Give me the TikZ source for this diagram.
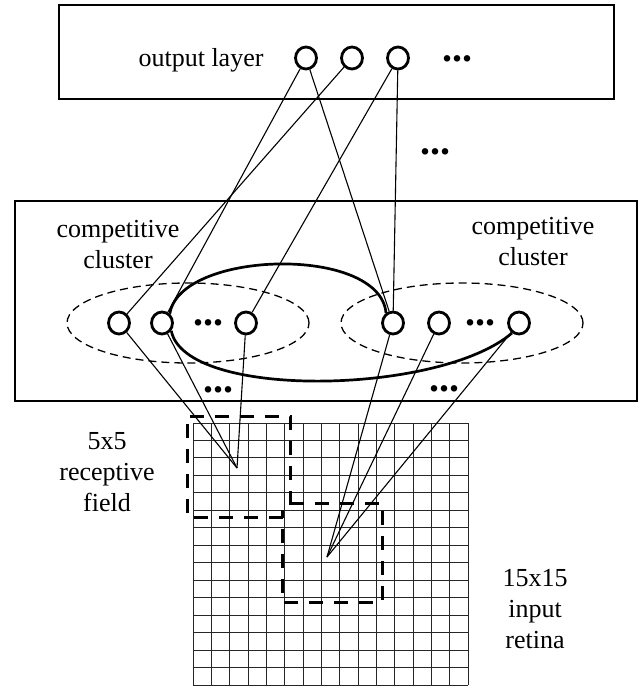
\documentclass[tikz,border=0pt]{standalone}
\usepackage{fontspec}
\setmainfont{Liberation Serif}
\usetikzlibrary{shapes.geometric,calc}
\begin{document}
\begin{tikzpicture}[x=1pt,y=-1pt,
  neuron/.style={draw,ellipse,fill=white,line width=2.8pt,minimum width=21pt,minimum height=22pt,inner sep=0pt},
  conn/.style={line width=1.1pt},
  box/.style={draw,line width=2pt},
  lbl/.style={font=\fontsize{26}{31}\selectfont,align=center,inner sep=0pt},
  dots/.style={font=\fontsize{40}{40}\selectfont\bfseries,inner sep=0pt},
  cluster/.style={draw,dash pattern=on 8pt off 5pt,line width=1.3pt},
  field/.style={line width=3pt,dash pattern=on 14pt off 11pt},
  gridline/.style={line width=1pt,black!85},
  loop/.style={line width=2.7pt}]
\useasboundingbox[fill=white] (0,0) rectangle (643,688);

% boxes
\draw[box] (59,5) rectangle (614,99);
\draw[box] (15,201) rectangle (637,401);

% competitive cluster ellipses
\draw[cluster] (188,323) ellipse [x radius=121pt, y radius=40pt];
\draw[cluster] (462,323) ellipse [x radius=121pt, y radius=40pt];

% input retina grid
\foreach \i in {0,...,15} {
  \draw[gridline] ({193+\i*275/15},423) -- ({193+\i*275/15},685);
  \draw[gridline] (193,{423+\i*262/15}) -- (468,{423+\i*262/15});
}

% receptive fields
\draw[field] (290,505) -- (290,416) -- (187,416) -- (187,517) -- (287,517);
\draw[field] (290,503) -- (382,503) -- (382,602) -- (282,602) -- (282,510);

% neurons
\node[neuron] (o1) at (306,58) {};
\node[neuron] (o2) at (352,58) {};
\node[neuron] (o3) at (398,58) {};
\node[neuron] (c1) at (119,323) {};
\node[neuron] (c2) at (162,323) {};
\node[neuron] (c3) at (246,323) {};
\node[neuron] (r1) at (393,323) {};
\node[neuron] (r2) at (439,323) {};
\node[neuron] (r3) at (519,323) {};
\coordinate (p1) at (237,468);
\coordinate (p2) at (327,557);

% lateral connection loop
\draw[loop] (c2.50) .. controls (180,250) and (380,245) .. (r1.125);
\draw[loop] (c2.-40) .. controls (185,400) and (440,395) .. (r3.-125);

% connections
\draw[conn] (o1) -- (c2);
\draw[conn] (o1) -- (r1);
\draw[conn] (o2) -- (c1);
\draw[conn] (o3) -- (c3);
\draw[conn] (o3) -- (r1);
\draw[conn] (c1) -- (p1);
\draw[conn] (c2) -- (p1);
\draw[conn] (c3) -- (p1);
\draw[conn] (r1) -- (p2);
\draw[conn] (r2) -- (p2);
\draw[conn] (r3) -- (p2);

% dots
\node[dots] (d1) at (457,59) {...};
\node[dots] (d2) at (435,152) {...};
\node[dots] (d3) at (208,323) {...};
\node[dots] (d4) at (480,323) {...};
\node[dots] (d5) at (218,390) {...};
\node[dots] (d6) at (444,389) {...};

% labels
\node[lbl,anchor=base] (outlbl) at (201,66) {output layer};
\node[lbl] (cl1) at (118,245) {competitive\\cluster};
\node[lbl] (cl2) at (533,242) {competitive\\cluster};
\node[lbl] (rf) at (107,472) {5x5\\receptive\\field};
\node[lbl] (ret) at (535,609) {15x15\\input\\retina};
\end{tikzpicture}
\end{document}
